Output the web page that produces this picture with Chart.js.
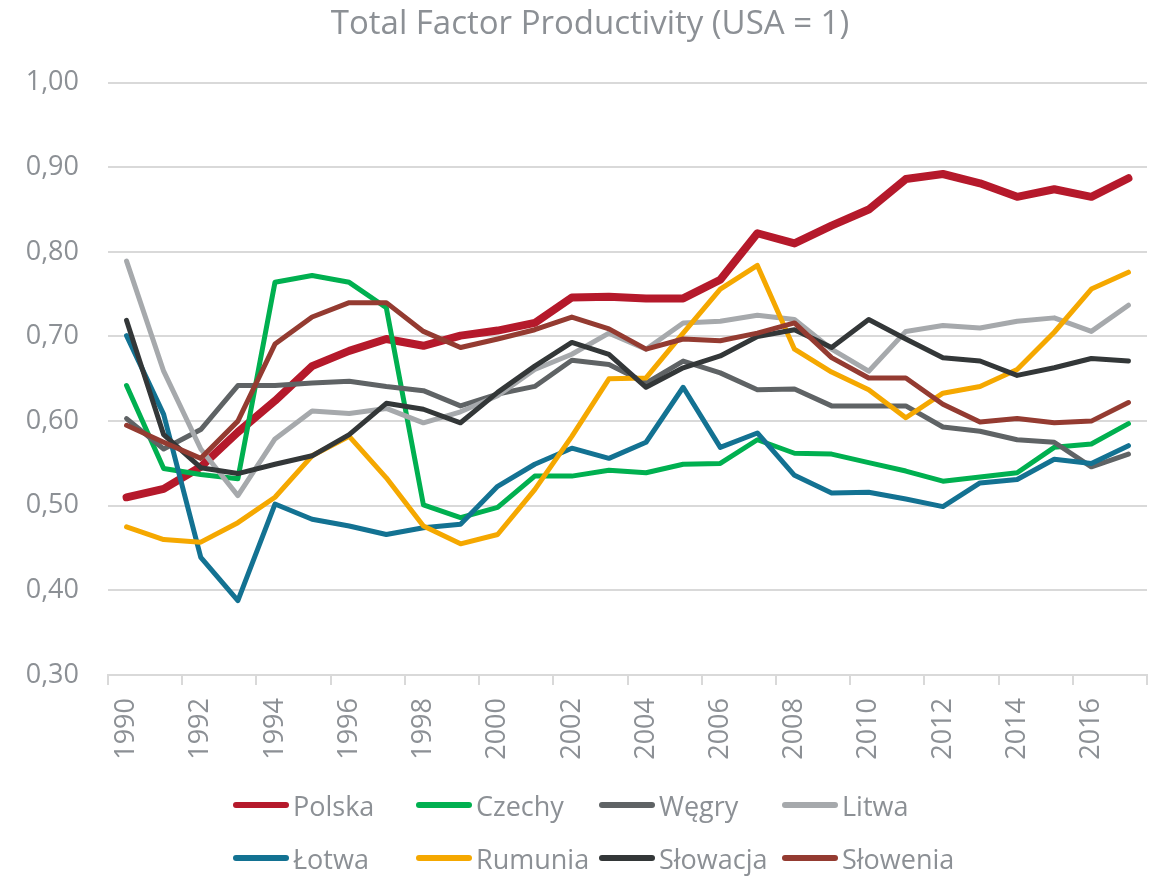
<!DOCTYPE html>
<html>
<head>
<meta charset="utf-8">
<script src="https://cdn.jsdelivr.net/npm/chart.js@4.4.0/dist/chart.umd.min.js"></script>
<style>
  html, body { margin: 0; padding: 0; background: #ffffff; }
  #wrap { position: relative; width: 1160px; height: 876px; overflow: hidden; }
  #chart { position: absolute; left: 0; top: 0; }
  #legend { position: absolute; left: 233px; top: 785px; width: 760px; font-family: "Open Sans", sans-serif; font-size: 27px; color: #8c9095; }
  .lg-item { position: absolute; display: flex; align-items: center; height: 40px; white-space: nowrap; }
  .lg-line { display: inline-block; width: 56px; height: 6px; border-radius: 3px; margin-right: 4px; }
</style>
</head>
<body>
<div id="wrap">
  <canvas id="chart" width="1160" height="876"></canvas>
  <div id="legend"></div>
</div>
<script>
const chartTitle = "Total Factor Productivity (USA = 1)";
const years = ["1990","1991","1992","1993","1994","1995","1996","1997","1998","1999","2000","2001","2002","2003","2004","2005","2006","2007","2008","2009","2010","2011","2012","2013","2014","2015","2016","2017"];

const seriesNames = ["Polska","Czechy","Węgry","Litwa","Łotwa","Rumunia","Słowacja","Słowenia"];

const polska   = [0.510,0.520,0.546,0.587,0.624,0.665,0.683,0.697,0.689,0.701,0.707,0.716,0.746,0.747,0.745,0.745,0.767,0.822,0.810,0.831,0.850,0.886,0.892,0.881,0.865,0.874,0.865,0.887];
const czechy   = [0.642,0.544,0.537,0.532,0.764,0.772,0.764,0.734,0.501,0.486,0.498,0.535,0.535,0.542,0.539,0.549,0.550,0.578,0.562,0.561,0.551,0.541,0.529,0.534,0.539,0.569,0.573,0.597];
const wegry    = [0.603,0.567,0.590,0.642,0.642,0.645,0.647,0.641,0.636,0.618,0.632,0.641,0.672,0.667,0.645,0.671,0.657,0.637,0.638,0.618,0.618,0.618,0.593,0.588,0.578,0.575,0.546,0.561];
const litwa    = [0.789,0.659,0.567,0.512,0.579,0.612,0.609,0.615,0.598,0.611,0.630,0.661,0.679,0.704,0.685,0.716,0.718,0.725,0.720,0.685,0.659,0.706,0.713,0.710,0.718,0.722,0.706,0.737];
const lotwa    = [0.701,0.608,0.439,0.388,0.502,0.484,0.476,0.466,0.474,0.478,0.523,0.549,0.568,0.556,0.575,0.640,0.569,0.586,0.536,0.515,0.516,0.508,0.499,0.527,0.531,0.555,0.550,0.571];
const rumunia  = [0.475,0.460,0.457,0.480,0.510,0.559,0.582,0.533,0.476,0.455,0.466,0.519,0.582,0.650,0.651,0.704,0.756,0.784,0.685,0.658,0.637,0.604,0.633,0.641,0.661,0.705,0.756,0.776];
const slowacja = [0.719,0.584,0.545,0.538,0.549,0.559,0.584,0.621,0.614,0.598,0.634,0.665,0.693,0.679,0.640,0.663,0.677,0.700,0.708,0.687,0.720,0.697,0.675,0.671,0.654,0.663,0.674,0.671];
const slowenia = [0.595,0.575,0.556,0.600,0.691,0.723,0.740,0.740,0.706,0.687,0.697,0.708,0.723,0.709,0.685,0.697,0.695,0.704,0.716,0.675,0.651,0.651,0.620,0.599,0.603,0.598,0.600,0.622];

const seriesValues = [polska, czechy, wegry, litwa, lotwa, rumunia, slowacja, slowenia];
const seriesColors = ["#b5192b","#00b050","#5f6365","#a6a9ac","#137292","#f5a800","#333738","#943b31"];
const seriesWidths = [8,5,5,5,5,5,5,5];

const yMin = 0.3, yMax = 1.0, yStep = 0.1;

const axisGrey = "#8c9095";
const gridGrey = "#d9d9d9";
const FONT = "'Open Sans', sans-serif";

const datasets = seriesNames.map((name, i) => ({
  label: name,
  data: seriesValues[i],
  borderColor: seriesColors[i],
  backgroundColor: seriesColors[i],
  borderWidth: seriesWidths[i],
  pointRadius: 0,
  pointHoverRadius: 0,
  tension: 0,
  fill: false,
  borderJoinStyle: "round",
  borderCapStyle: "round",
  order: seriesNames.length - i
}));

const chart = new Chart(document.getElementById("chart"), {
  type: "line",
  data: { labels: years, datasets: datasets },
  options: {
    responsive: false,
    animation: false,
    devicePixelRatio: 1,
    layout: { padding: { left: 20, right: 0, top: 0, bottom: 101 } },
    plugins: {
      legend: { display: false },
      tooltip: { enabled: false },
      title: {
        display: true,
        text: chartTitle,
        color: axisGrey,
        font: { family: FONT, size: 33, weight: "normal", lineHeight: 1.2 },
        padding: { top: 5, bottom: 38 }
      }
    },
    scales: {
      x: {
        type: "category",
        offset: true,
        afterFit: (s) => { s.height = 100; s.paddingLeft = 0; s.paddingRight = 13; },
        border: { display: true, color: gridGrey, width: 2 },
        grid: {
          display: true,
          offset: true,
          drawOnChartArea: false,
          drawTicks: true,
          tickLength: 10,
          lineWidth: 2,
          color: (ctx) => (ctx.index === undefined || ctx.index % 2 === 0) ? gridGrey : "rgba(0,0,0,0)"
        },
        ticks: {
          autoSkip: false,
          maxRotation: 90,
          minRotation: 90,
          padding: 13,
          color: axisGrey,
          font: { family: FONT, size: 27 },
          callback: function (value, index) { return index % 2 === 0 ? this.getLabelForValue(value) : ""; }
        }
      },
      y: {
        min: yMin,
        max: yMax,
        afterFit: (s) => { s.width = 88; },
        border: { display: false },
        grid: { color: gridGrey, lineWidth: 2, drawTicks: false },
        ticks: {
          stepSize: yStep,
          padding: 29,
          color: axisGrey,
          font: { family: FONT, size: 27 },
          callback: (v) => v.toFixed(2).replace(".", ",")
        }
      }
    }
  }
});

// HTML legend built from the chart's datasets (4 columns x 2 rows)
const legendEl = document.getElementById("legend");
chart.data.datasets.forEach((ds, i) => {
  const item = document.createElement("div");
  item.className = "lg-item";
  item.style.left = ((i % 4) * 183) + "px";
  item.style.top = (Math.floor(i / 4) * 53) + "px";
  const line = document.createElement("span");
  line.className = "lg-line";
  line.style.background = ds.borderColor;
  const txt = document.createElement("span");
  txt.textContent = ds.label;
  item.appendChild(line);
  item.appendChild(txt);
  legendEl.appendChild(item);
});
</script>
</body>
</html>
